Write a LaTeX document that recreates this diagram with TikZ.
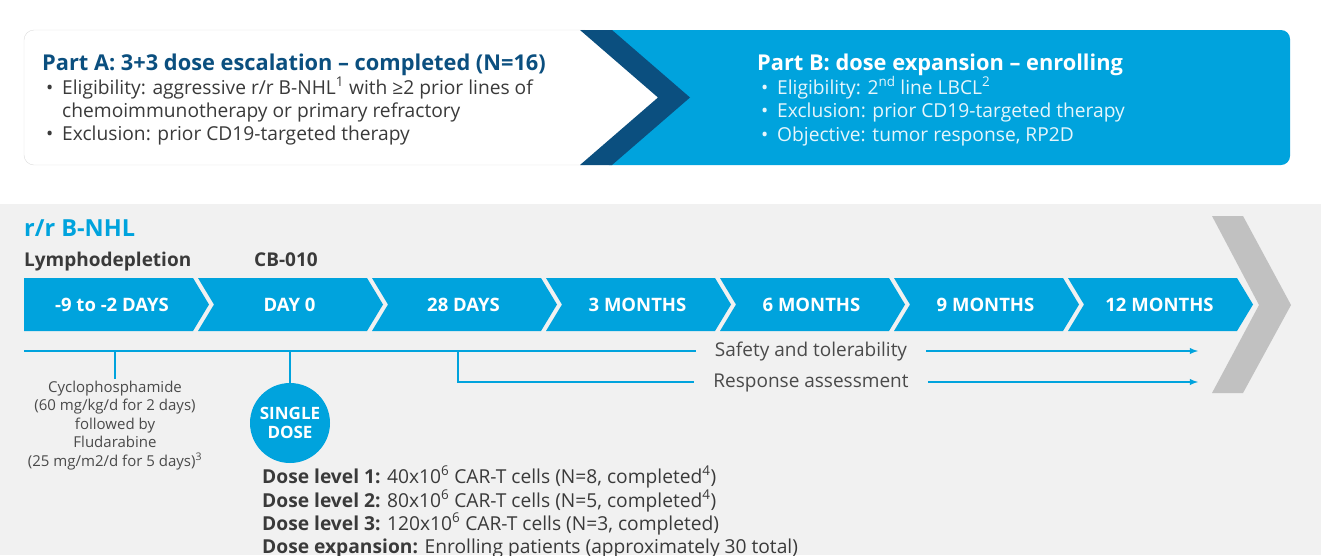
\documentclass[tikz,border=0pt]{standalone}
\usepackage{fontspec}
\setmainfont{Open Sans}
\usepackage{tikz}
\usetikzlibrary{arrows,positioning}
\definecolor{cbblue}{HTML}{00A3DD}
\definecolor{cbnavy}{HTML}{0B4F7F}
\definecolor{inkgray}{HTML}{3A3A3A}
\definecolor{softgray}{HTML}{4A4A4A}
\definecolor{bandgray}{HTML}{F1F1F1}
\definecolor{chevgray}{HTML}{C1C1C1}
\definecolor{boxline}{HTML}{DCDCDC}
\definecolor{paleblue}{HTML}{E6F6FC}
\newcommand{\fs}[2]{\fontsize{#1}{#2}\selectfont}
\newcommand{\bul}{\makebox[16pt][l]{\textbullet}}

\begin{document}
\begin{tikzpicture}[x=1pt,y=-1pt,node distance=174pt,on grid,
        stage/.style={text=white,font=\bfseries\fs{18.5}{20}},
        line/.style={anchor=base west,inner sep=0pt,font=\fs{19.2}{21}},
        note/.style={text=softgray,font=\fs{19}{21},inner xsep=19pt,inner ysep=0pt,
            text height=10pt,text depth=0pt},
        track/.style={draw=cbblue,line width=1.8pt},
        dose/.style={circle,fill=cbblue,minimum size=80pt,inner sep=0pt,align=center,
            text=white,font=\bfseries\fs{17}{19}}]
    \useasboundingbox (0,0) rectangle (1321,555);

    \fill[cbblue,rounded corners=9pt] (600,30) rectangle (1290,165);
    \fill[white] (580,30) -- (660,97.5) -- (580,165) -- cycle;
    \draw[boxline,fill=white,rounded corners=10pt] (585,30) -- (24,30) -- (24,165) -- (585,165);
    \fill[cbnavy] (580,30) -- (612,30) -- (690,97.5) -- (612,165) -- (580,165) -- (658,97.5) -- cycle;

    \node[line,text=cbnavy,font=\bfseries\fs{21.8}{24}] (parta) at (42,70)
        {Part A: 3+3 dose escalation -- completed (N=16)};
    \node[line,text=inkgray] (a1) at (46,94)
        {\bul Eligibility: aggressive r/r B-NHL\textsuperscript{1} with ≥2 prior lines of};
    \node[line,text=inkgray] (a2) at (62,117) {chemoimmunotherapy or primary refractory};
    \node[line,text=inkgray] (a3) at (46,140) {\bul Exclusion: prior CD19-targeted therapy};

    \node[line,text=white,font=\bfseries\fs{21.8}{24}] (partb) at (757,70)
        {Part B: dose expansion -- enrolling};
    \node[line,text=paleblue] (b1) at (761,94)
        {\bul Eligibility: 2\textsuperscript{nd} line LBCL\textsuperscript{2}};
    \node[line,text=paleblue] (b2) at (761,117.5) {\bul Exclusion: prior CD19-targeted therapy};
    \node[line,text=paleblue] (b3) at (761,141) {\bul Objective: tumor response, RP2D};

    \fill[bandgray] (0,204) rectangle (1321,555);
    \fill[chevgray] (1212,216) -- (1243,216) -- (1291,305) -- (1243,393) -- (1212,393) -- (1259,305) -- cycle;

    \node[line,text=cbblue,font=\bfseries\fs{23.5}{25}] (arm) at (24,236.5) {r/r B-NHL};
    \node[line,text=inkgray,font=\bfseries\fs{19}{21}] (lymph) at (24,266.5) {Lymphodepletion};
    \node[line,text=inkgray,font=\bfseries\fs{19}{21}] (cb) at (254,266.5) {CB-010};

    \foreach \k in {0,...,6}{
        \pgfmathsetmacro\L{24+174*\k}
        \pgfmathsetmacro\R{193+174*\k}
        \ifnum\k=0 \pgfmathsetmacro\N{\L}\else\pgfmathsetmacro\N{\L+16}\fi
        \fill[cbblue] (\L,278) -- (\R,278) -- (\R+16,304.5) -- (\R,331) -- (\L,331) -- (\N,304.5) -- cycle;
    }
    \node[stage] (s1) at (112,305) {-9 to -2 DAYS};
    \node[stage] (s2) [right=177.5pt of s1] {DAY 0};
    \node[stage] (s3) [right=of s2] {28 DAYS};
    \node[stage] (s4) [right=of s3] {3 MONTHS};
    \node[stage] (s5) [right=of s4] {6 MONTHS};
    \node[stage] (s6) [right=of s5] {9 MONTHS};
    \node[stage] (s7) [right=of s6] {12 MONTHS};

    \coordinate (t0) at (24,351);
    \coordinate (t1) at (1198,351);
    \coordinate (r0) at (458,351);
    \coordinate (r1) at (1198,382);
    \coordinate (c1) at (115,351);
    \coordinate (c2) at (290,351);
    \node[note] (safe) at (811,351) {Safety and tolerability};
    \node[note] (resp) at (811,382) {Response assessment};
    \draw[track] (t0) -- (safe);
    \draw[track,-latex] (safe) -- (t1);
    \draw[track] (r0) |- (resp);
    \draw[track,-latex] (resp) -- (r1);

    \node[anchor=north,align=center,text=softgray,font=\fs{15}{18.5},inner sep=1.5pt] (cyclo) at (115,379)
        {Cyclophosphamide\\(60 mg/kg/d for 2 days)\\followed by\\Fludarabine\\(25 mg/m2/d for 5 days)\textsuperscript{3}};
    \draw[track] (c1) -- (cyclo);
    \node[dose] (single) at (290,423) {SINGLE\\DOSE};
    \draw[track] (c2) -- (single);

    \node[line,text=inkgray] (d1) at (262,483.5)
        {\textbf{Dose level 1:} 40x10\textsuperscript{6} CAR-T cells (N=8, completed\textsuperscript{4})};
    \node[line,text=inkgray] (d2) at (262,507)
        {\textbf{Dose level 2:} 80x10\textsuperscript{6} CAR-T cells (N=5, completed\textsuperscript{4})};
    \node[line,text=inkgray] (d3) at (262,530.5)
        {\textbf{Dose level 3:} 120x10\textsuperscript{6} CAR-T cells (N=3, completed)};
    \node[line,text=inkgray] (d4) at (262,553)
        {\textbf{Dose expansion:} Enrolling patients (approximately 30 total)};
\end{tikzpicture}
\end{document}
